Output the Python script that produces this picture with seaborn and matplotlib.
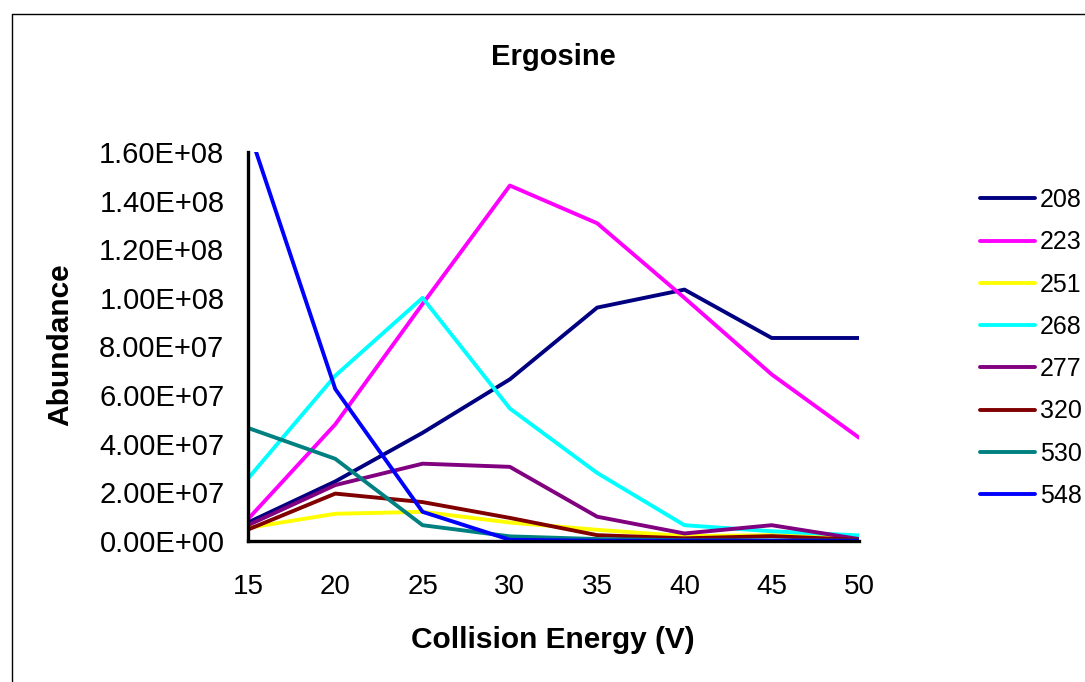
import matplotlib
matplotlib.use("Agg")
import matplotlib.pyplot as plt
from matplotlib.lines import Line2D
from matplotlib.ticker import FuncFormatter, FixedLocator
import seaborn as sns
import pandas as pd

energy = [15, 20, 25, 30, 35, 40, 45, 50]
ion_labels = ["208", "223", "251", "268", "277", "320", "530", "548"]
s208 = [7.6e6, 2.45e7, 4.45e7, 6.65e7, 9.6e7, 1.034e8, 8.35e7, 8.35e7]
s223 = [9.0e6, 4.8e7, 9.75e7, 1.462e8, 1.307e8, 1.0e8, 6.85e7, 4.25e7]
s251 = [5.4e6, 1.12e7, 1.2e7, 7.6e6, 4.6e6, 2.0e6, 2.4e6, 1.3e6]
s268 = [2.57e7, 6.8e7, 1.0e8, 5.45e7, 2.8e7, 6.5e6, 4.0e6, 2.3e6]
s277 = [6.5e6, 2.3e7, 3.18e7, 3.05e7, 1.0e7, 3.1e6, 6.5e6, 8e5]
s320 = [4.7e6, 1.95e7, 1.6e7, 9.5e6, 2.4e6, 1.1e6, 2.0e6, 5e5]
s530 = [4.65e7, 3.38e7, 6.5e6, 1.9e6, 8e5, 3e5, 2e5, 1e5]
s548 = [1.7e8, 6.25e7, 1.2e7, 5e5, 1e5, 1e5, 1e5, 1e5]
y_ticks = [0, 2e7, 4e7, 6e7, 8e7, 1e8, 1.2e8, 1.4e8, 1.6e8]
colors = ["#000080", "#FF00FF", "#FFFF00", "#00FFFF", "#800080", "#800000", "#008080", "#0000FF"]

series = [s208, s223, s251, s268, s277, s320, s530, s548]
rows = []
for lab, vals in zip(ion_labels, series):
    for e, v in zip(energy, vals):
        rows.append({"Energy": e, "Abundance": v, "Ion": lab})
df = pd.DataFrame(rows)

sns.set_style("white")
plt.rcParams["font.family"] = ["Liberation Sans", "DejaVu Sans"]
plt.rcParams["text.color"] = "black"
plt.rcParams["xtick.color"] = "black"
plt.rcParams["ytick.color"] = "black"
plt.rcParams["axes.labelcolor"] = "black"

fig = plt.figure(figsize=(10.85, 6.82), dpi=100)
ax = fig.add_axes([248 / 1085, 1 - 541 / 682, (859 - 248) / 1085, (541 - 152) / 682])

sns.lineplot(data=df, x="Energy", y="Abundance", hue="Ion", hue_order=ion_labels,
             palette=dict(zip(ion_labels, colors)), linewidth=2.8, ax=ax,
             legend=False, estimator=None, sort=False)

ax.set_xlim(15, 50)
ax.set_ylim(0, 1.6e8)
ax.xaxis.set_major_locator(FixedLocator(energy))
ax.yaxis.set_major_locator(FixedLocator(y_ticks))
ax.yaxis.set_major_formatter(FuncFormatter(lambda v, p: f"{v:.2E}"))
ax.set_xlabel("")
ax.set_ylabel("")
for s in ["top", "right"]:
    ax.spines[s].set_visible(False)
for s in ["left", "bottom"]:
    ax.spines[s].set_color("black")
    ax.spines[s].set_linewidth(2.4)
ax.tick_params(axis="y", direction="out", length=8, width=2.2, pad=9, labelsize=21,
               color="black", labelcolor="black")
ax.tick_params(axis="x", direction="out", length=8.5, width=2.2, pad=15, labelsize=20,
               color="black", labelcolor="black")
ax.set_facecolor("white")

# legend
handles = [Line2D([0], [0], color=c, lw=2.8) for c in colors]
leg = fig.legend(handles, ion_labels, loc="center left",
                 bbox_to_anchor=(980 / 1085, 1 - 348 / 682), frameon=False,
                 fontsize=18, handlelength=2.2, handletextpad=0.2,
                 labelspacing=0.73, borderpad=0, borderaxespad=0)
for t in leg.get_texts():
    t.set_color("black")

fig.text(553.5 / 1085, 1 - 57 / 682, "Ergosine", ha="center", va="center",
         fontsize=21, fontweight="bold", color="black")
fig.text(553 / 1085, 1 - 640 / 682, "Collision Energy (V)", ha="center", va="center",
         fontsize=21.5, fontweight="bold", color="black")
fig.text(60 / 1085, 1 - 345 / 682, "Abundance", ha="center", va="center",
         rotation=90, fontsize=21.5, fontweight="bold", color="black")

# chart-area frame (top and left edges visible)
fig.add_artist(Line2D([12 / 1085, 12 / 1085], [0, 1 - 14 / 682], transform=fig.transFigure,
                      color="black", lw=1.0))
fig.add_artist(Line2D([12 / 1085, 1], [1 - 14 / 682, 1 - 14 / 682], transform=fig.transFigure,
                      color="black", lw=1.0))

fig.savefig("out.png", dpi=100, facecolor="white")
